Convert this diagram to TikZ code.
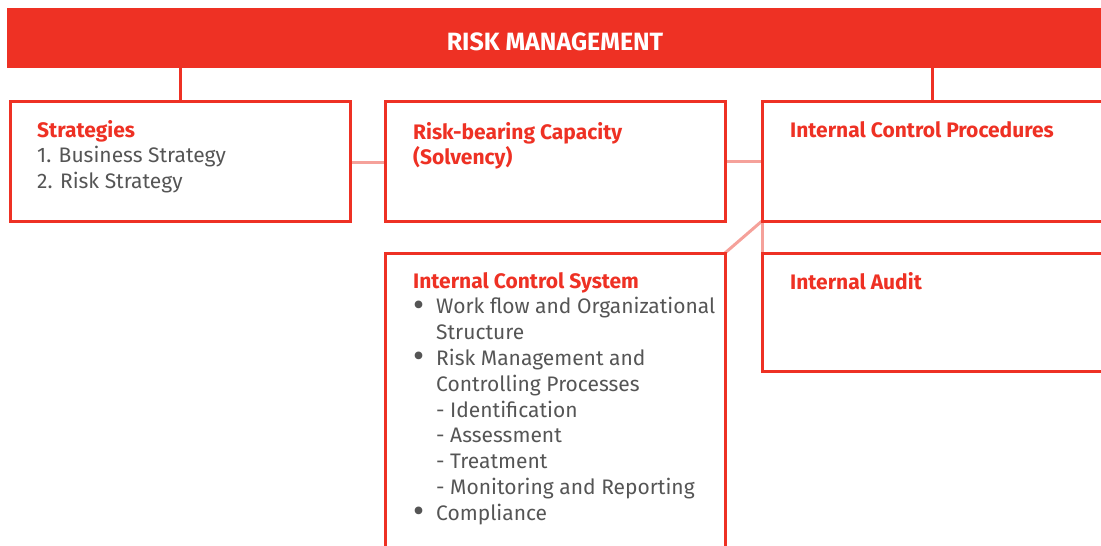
\documentclass[tikz,border=0pt]{standalone}
\usepackage{fontspec}
\setmainfont{Fira Sans}
\definecolor{rmred}{HTML}{EE3124}
\definecolor{rmpink}{HTML}{F5A19A}
\definecolor{rmgray}{HTML}{555555}
\tikzset{
  box/.style={draw=rmred, line width=3pt, inner sep=0pt, outer sep=0pt, anchor=north west},
  conn/.style={draw=rmred, line width=3pt},
  softconn/.style={draw=rmpink, line width=3pt},
  txt/.style={anchor=base west, inner sep=0pt, font=\fontsize{21}{25.8}\selectfont, text=rmgray},
}
\newcommand{\hd}[1]{\textcolor{rmred}{\bfseries #1}}
\newcommand{\bl}{\hbox to 23pt{\hskip0.5pt\raisebox{-2.5pt}{\fontsize{34}{34}\selectfont\textbullet}\hfil}}
\newcommand{\ind}{\hskip23pt}
\begin{document}
\begin{tikzpicture}[x=1pt,y=-1pt]
\useasboundingbox (0,0) rectangle (1101,546);
\clip (0,0) rectangle (1101,546);
% title bar
\node[fill=rmred, inner sep=0pt, outer sep=0pt, minimum width=1100pt, minimum height=60pt, anchor=north west] (bar) at (7,8) {};
\node[anchor=base, inner sep=0pt, text=white, font=\fontsize{25}{28}\selectfont\bfseries] (title) at (555,50) {RISK MANAGEMENT};
% boxes
\node[box, minimum width=340pt, minimum height=120pt] (strat) at (10,101) {};
\node[box, minimum width=340pt, minimum height=120pt] (rbc) at (385,101) {};
\node[box, minimum width=340pt, minimum height=120pt] (icp) at (762,101) {};
\node[box, minimum width=340pt, minimum height=118pt] (ia) at (762,253) {};
\node[box, minimum width=340pt, minimum height=320pt] (ics) at (385,253) {};
% connectors
\draw[softconn] ([yshift=-1.5pt]strat.east) -- ([yshift=-1.5pt]strat.east -| rbc.west);
\draw[softconn] (rbc.east) -- (icp.west);
\draw[softconn] (ics.north east) -- (icp.south west);
\draw[softconn] (icp.south west) -- (ia.north west);
\draw[conn] (strat.north) -- (strat.north |- bar.south);
\draw[conn] (icp.north) -- (icp.north |- bar.south);
% box borders on top of the connectors
\foreach \b in {strat,rbc,icp,ia,ics}{\draw[rmred, line width=3pt] (\b.north west) rectangle (\b.south east);}
% texts
\node[txt] (tstrat) at (37,137) {\vtop{\baselineskip=25.8pt\lineskiplimit=-50pt
  \hbox{\hd{Strategies}}
  \hbox{1. Business Strategy}
  \hbox{2. Risk Strategy}}};
\node[txt] (trbc) at (413,139) {\vtop{\baselineskip=25.8pt\lineskiplimit=-50pt
  \hbox{\hd{Risk-bearing Capacity}}
  \hbox{\hd{(Solvency)}}}};
\node[txt] (ticp) at (790,137) {\hd{Internal Control Procedures}};
\node[txt] (tia) at (790,289) {\hd{Internal Audit}};
\node[txt] (tics) at (413,288) {\vtop{\baselineskip=25.8pt\lineskiplimit=-50pt
  \hbox{\hd{Internal Control System}}
  \hbox{\bl Work flow and Organizational}
  \hbox{\ind Structure}
  \hbox{\bl Risk Management and}
  \hbox{\ind Controlling Processes}
  \hbox{\ind - Identification}
  \hbox{\ind - Assessment}
  \hbox{\ind - Treatment}
  \hbox{\ind - Monitoring and Reporting}
  \hbox{\bl Compliance}}};
\end{tikzpicture}
\end{document}
